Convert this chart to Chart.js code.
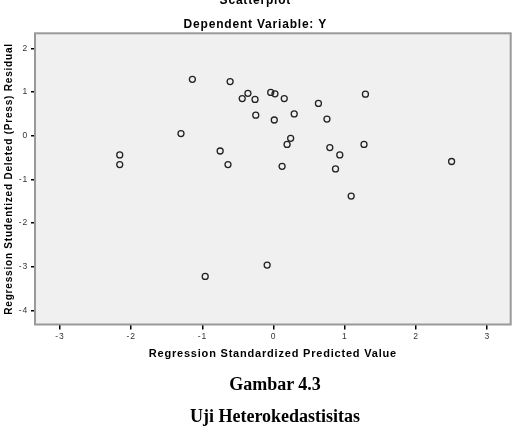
<!DOCTYPE html>
<html>
<head>
<meta charset="utf-8">
<script src="https://cdn.jsdelivr.net/npm/chart.js@4.4.1/dist/chart.umd.min.js"></script>
<style>
  body{margin:0;background:#fff;width:518px;height:438px;overflow:hidden;position:relative;}
  #grafica{position:absolute;left:0;top:-8px;}
  .caption{position:absolute;left:16px;width:518px;text-align:center;font-family:"Liberation Serif","Times New Roman",serif;font-weight:bold;font-size:18px;color:#000;}
</style>
</head>
<body>
<canvas id="grafica" width="518" height="446"></canvas>
<div class="caption" style="top:374px">Gambar 4.3</div>
<div class="caption" style="top:406px">Uji Heterokedastisitas</div>
<script>
// Regression Standardized Predicted Value (x) vs Studentized Deleted Residual (y)
const predicho=[-1.14,-0.61,-0.36,-0.44,-0.26,-0.04,-0.25,-1.30,-2.16,-2.16,-0.75,-0.64,
  0.02,0.15,0.01,0.29,0.63,0.75,1.29,0.24,0.19,0.79,0.93,1.27,0.12,0.87,2.50,-0.96,-0.09,1.09];
const residual=[1.29,1.24,0.97,0.85,0.83,0.99,0.47,0.05,-0.44,-0.66,-0.35,-0.66,
  0.96,0.85,0.36,0.50,0.74,0.38,0.95,-0.06,-0.20,-0.27,-0.44,-0.20,-0.70,-0.76,-0.59,-3.22,-2.96,-1.38];

const ticksX=[-3,-2,-1,0,1,2,3];
const ticksY=[-4,-3,-2,-1,0,1,2];

const puntos=predicho.map((x,i)=>({x:x,y:residual[i]}));

//Fondo, marco y espaciado de letras
const marco={
  id:'marco',
  beforeLayout(chart){chart.ctx.letterSpacing='0.8px';},
  beforeDraw(chart){
    const {ctx,chartArea:a}=chart;
    ctx.letterSpacing='0.8px';
    ctx.save();
    ctx.fillStyle='#f0f0f0';
    ctx.fillRect(a.left,a.top,a.right-a.left,a.bottom-a.top);
    ctx.restore();
  },
  beforeDatasetsDraw(chart){
    const {ctx,chartArea:a}=chart;
    ctx.save();
    ctx.strokeStyle='#999';
    ctx.lineWidth=2;
    ctx.strokeRect(a.left,a.top,a.right-a.left,a.bottom-a.top);
    ctx.restore();
  }
};

const fuenteTick={family:'"Liberation Sans", Arial, sans-serif',size:8.5};

new Chart(document.getElementById('grafica'),{
  type:'scatter',
  data:{
    datasets:[{
      data:puntos,
      pointStyle:'circle',
      pointRadius:3,
      pointBorderWidth:1.3,
      pointBorderColor:'#222',
      pointBackgroundColor:'rgba(0,0,0,0)'
    }]
  },
  options:{
    responsive:false,
    animation:false,
    devicePixelRatio:1,
    layout:{padding:{left:0,right:7.3,top:0,bottom:73.5}},
    plugins:{
      legend:{display:false},
      tooltip:{enabled:false},
      title:{
        display:true,
        text:'Scatterplot',
        color:'#000',
        font:{family:'"Liberation Sans", Arial, sans-serif',size:12,weight:'bold'},
        padding:{top:1,bottom:10}
      },
      subtitle:{
        display:true,
        text:'Dependent Variable: Y',
        color:'#000',
        font:{family:'"Liberation Sans", Arial, sans-serif',size:12,weight:'bold'},
        padding:{top:0,bottom:1.5}
      }
    },
    scales:{
      x:{
        type:'linear',
        min:-3.35,
        max:3.33,
        border:{display:false},
        grid:{drawOnChartArea:false,drawTicks:true,tickLength:5,color:'#000',lineWidth:1.5},
        afterBuildTicks(s){s.ticks=ticksX.map(v=>({value:v}));},
        afterFit(s){s.height=40;},
        ticks:{color:'#333',font:fuenteTick,padding:2,maxRotation:0},
        title:{display:true,text:'Regression Standardized Predicted Value',color:'#000',font:{family:'"Liberation Sans", Arial, sans-serif',size:11,weight:'bold'},padding:{top:0,bottom:4}}
      },
      y:{
        type:'linear',
        min:-4.32,
        max:2.344,
        border:{display:false},
        grid:{drawOnChartArea:false,drawTicks:true,tickLength:4,color:'#000',lineWidth:1.5},
        afterBuildTicks(s){s.ticks=ticksY.map(v=>({value:v}));},
        afterFit(s){s.width=35;},
        ticks:{color:'#333',font:fuenteTick,padding:3},
        title:{display:true,text:'Regression Studentized Deleted (Press) Residual',color:'#000',font:{family:'"Liberation Sans", Arial, sans-serif',size:10,weight:'bold'},padding:{top:3,bottom:0}}
      }
    }
  },
  plugins:[marco]
});
</script>
</body>
</html>
